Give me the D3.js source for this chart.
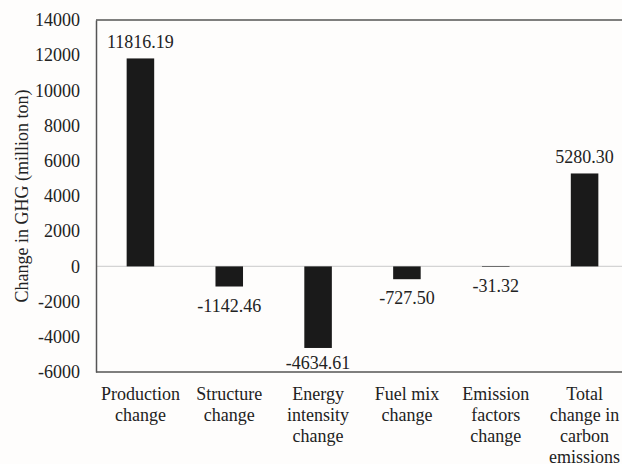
<!DOCTYPE html>
<html>
<head>
<meta charset="utf-8">
<script src="https://cdn.jsdelivr.net/npm/d3@7"></script>
<style>
  html, body { margin: 0; padding: 0; background: #fefdfc; }
  svg { display: block; }
  svg text { font-family: 'Liberation Serif', 'Times New Roman', serif; }
</style>
</head>
<body>
<svg id="chart" width="622" height="464"></svg>
<script>
// Decomposition of the change in GHG emissions (million ton)
const categories = [
  "Production\nchange",
  "Structure\nchange",
  "Energy\nintensity\nchange",
  "Fuel mix\nchange",
  "Emission\nfactors\nchange",
  "Total\nchange in\ncarbon\nemissions"
];
const values = [11816.19, -1142.46, -4634.61, -727.50, -31.32, 5280.30];
const yTicks = [-6000, -4000, -2000, 0, 2000, 4000, 6000, 8000, 10000, 12000, 14000];
const yTitle = "Change in GHG (million ton)";

(function () {
  const svg = d3.select("#chart");
  const mLeft = 96, mRight = 629, mTop = 20, mBottom = 372;

  const x = d3.scaleBand().domain(d3.range(categories.length)).range([mLeft, mRight]).padding(0);
  const y = d3.scaleLinear().domain([-6000, 14000]).range([mBottom, mTop]);
  const barW = x.bandwidth() * 0.31;

  // frame: top and bottom rules
  svg.append("line").attr("x1", mLeft).attr("x2", 622).attr("y1", mTop).attr("y2", mTop)
    .attr("stroke", "#555").attr("stroke-width", 1.5);
  svg.append("line").attr("x1", mLeft).attr("x2", 622).attr("y1", mBottom).attr("y2", mBottom)
    .attr("stroke", "#555").attr("stroke-width", 1.5);

  // zero line
  svg.append("line").attr("x1", mLeft).attr("x2", 622).attr("y1", y(0)).attr("y2", y(0))
    .attr("stroke", "#d4d4d4").attr("stroke-width", 1.2);

  // y axis
  const yAxis = svg.append("g").attr("transform", `translate(${mLeft},0)`)
    .call(d3.axisLeft(y).tickValues(yTicks).tickSize(0).tickPadding(16).tickFormat(d => String(d)));
  yAxis.attr("font-family", null);
  yAxis.select(".domain").attr("stroke", "#555").attr("stroke-width", 1.5);
  yAxis.selectAll("text").attr("font-size", 18).attr("fill", "#222");

  // axis title
  svg.append("text")
    .attr("transform", `translate(22,${(mTop + mBottom) / 2}) rotate(-90)`)
    .attr("text-anchor", "middle").attr("dominant-baseline", "central")
    .attr("font-size", 18).attr("fill", "#222").text(yTitle);

  // bars
  svg.append("g").selectAll("rect").data(values).join("rect")
    .attr("x", (d, i) => x(i) + (x.bandwidth() - barW) / 2)
    .attr("width", barW)
    .attr("y", d => y(Math.max(0, d)))
    .attr("height", d => Math.abs(y(d) - y(0)))
    .attr("fill", "#1a1a1a");

  // value labels
  svg.append("g").selectAll("text").data(values).join("text")
    .attr("x", (d, i) => x(i) + x.bandwidth() / 2)
    .attr("y", d => d >= 0 ? y(d) - 16 : Math.min(y(d) + 19, mBottom - 9))
    .attr("text-anchor", "middle").attr("dominant-baseline", "central")
    .attr("font-size", 18).attr("fill", "#222")
    .text(d => d.toFixed(2));

  // category labels, one tspan per line
  const cat = svg.append("g").selectAll("text").data(categories).join("text")
    .attr("text-anchor", "middle").attr("font-size", 18).attr("fill", "#222");
  cat.each(function (c, i) {
    const t = d3.select(this);
    c.split("\n").forEach((line, k) => {
      t.append("tspan").attr("x", x(i) + x.bandwidth() / 2)
        .attr("y", 394 + k * 21).attr("dominant-baseline", "central").text(line);
    });
  });
})();
</script>
</body>
</html>
